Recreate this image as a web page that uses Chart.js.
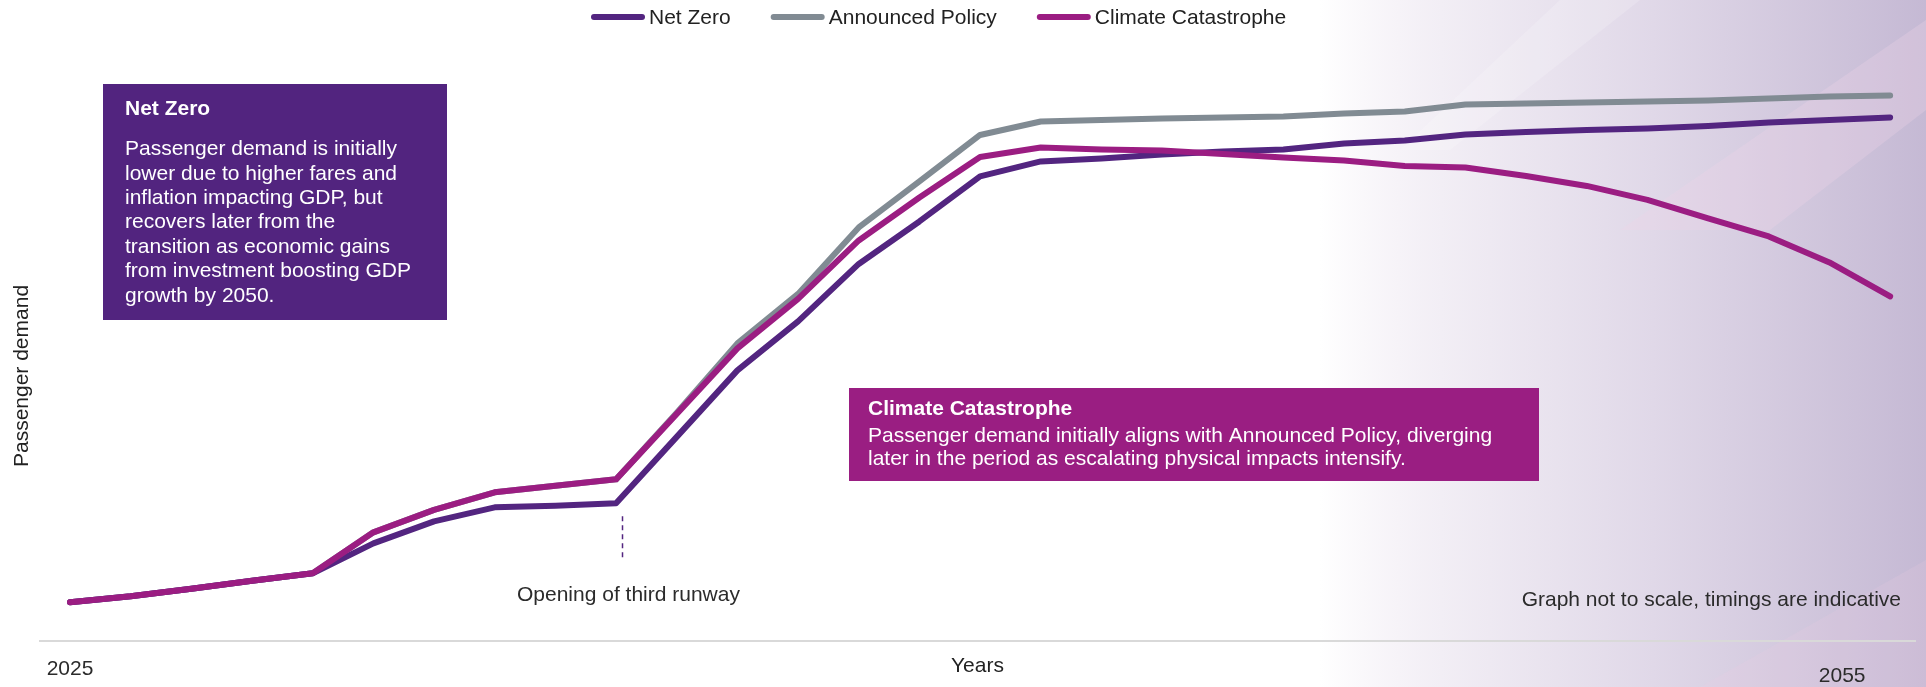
<!DOCTYPE html>
<html>
<head>
<meta charset="utf-8">
<title>Passenger demand scenarios</title>
<script src="https://cdn.jsdelivr.net/npm/chart.js@4.4.1/dist/chart.umd.min.js"></script>
<style>
  html, body { margin: 0; padding: 0; background: #fff; }
  #wrap { width: 1926px; height: 687px; position: relative; }
</style>
</head>
<body>
<div id="wrap"><canvas id="demandChart"></canvas></div>
<script>
var years = [2025, 2026, 2027, 2028, 2029, 2030, 2031, 2032, 2033, 2034,
             2035, 2036, 2037, 2038, 2039, 2040, 2041, 2042, 2043, 2044,
             2045, 2046, 2047, 2048, 2049, 2050, 2051, 2052, 2053, 2054, 2055];

// indicative demand index
var netZero = [7.7, 8.9, 10.4, 12.0, 13.5, 19.5, 23.9, 26.7, 27.0, 27.5,
               40.8, 54.1, 63.9, 75.4, 83.9, 92.9, 95.9, 96.5, 97.3, 97.9,
               98.3, 99.5, 100.1, 101.3, 101.8, 102.2, 102.5, 103.0, 103.7, 104.2, 104.7];
var announcedPolicy = [7.7, 8.9, 10.4, 12.0, 13.5, 21.7, 26.2, 29.7, 31.0, 32.3,
                       45.6, 59.5, 69.4, 82.7, 91.9, 101.2, 103.9, 104.2, 104.5, 104.7,
                       104.9, 105.5, 105.9, 107.3, 107.5, 107.7, 107.9, 108.1, 108.5, 108.9, 109.1];
var climateCatastrophe = [7.7, 8.9, 10.4, 12.0, 13.5, 21.7, 26.2, 29.7, 31.0, 32.3,
                          45.4, 58.5, 68.4, 80.1, 88.7, 96.8, 98.7, 98.3, 98.1, 97.4,
                          96.7, 96.1, 95.0, 94.7, 93.0, 91.0, 88.2, 84.5, 80.9, 75.7, 68.9];

var seriesNames = ['Net Zero', 'Announced Policy', 'Climate Catastrophe'];
var seriesColors = ['#532580', '#818b93', '#9b1d82'];
var tickLabels = ['2025', '2055'];
var runwayYear = 2034.1;

var FONT = '"Liberation Sans", Arial, sans-serif';

function points(values) {
    return years.map(function (yr, i) { return { x: yr, y: values[i] }; });
}

// soft lilac wash on the right hand side
var backdrop = {
    id: 'backdrop',
    beforeDraw: function (chart) {
        var ctx = chart.ctx, w = chart.width, h = chart.height;
        ctx.save();
        ctx.fillStyle = '#ffffff';
        ctx.fillRect(0, 0, w, h);
        var g = ctx.createLinearGradient(1320, 0, w, 0);
        g.addColorStop(0, 'rgba(240,234,243,0)');
        g.addColorStop(0.2, '#f2eef5');
        g.addColorStop(0.55, '#e0d8e8');
        g.addColorStop(1, '#c5b9d4');
        ctx.fillStyle = g;
        ctx.fillRect(1320, 0, w - 1320, h);

        ctx.fillStyle = 'rgba(238,212,232,0.30)';
        ctx.beginPath();
        ctx.moveTo(1620, 230); ctx.lineTo(1926, 20); ctx.lineTo(1926, 110); ctx.lineTo(1770, 230);
        ctx.closePath(); ctx.fill();

        ctx.fillStyle = 'rgba(255,255,255,0.18)';
        ctx.beginPath();
        ctx.moveTo(1560, 0); ctx.lineTo(1640, 0); ctx.lineTo(1450, 150); ctx.lineTo(1400, 150);
        ctx.closePath(); ctx.fill();

        ctx.fillStyle = 'rgba(236,205,228,0.18)';
        ctx.beginPath();
        ctx.moveTo(1700, 687); ctx.lineTo(1926, 560); ctx.lineTo(1926, 687);
        ctx.closePath(); ctx.fill();
        ctx.restore();
    }
};

// text boxes, runway marker, axis title and the two year labels
var notes = {
    id: 'notes',
    afterDraw: function (chart) {
        var ctx = chart.ctx;
        var xs = chart.scales.x, ys = chart.scales.y;
        ctx.save();
        ctx.textBaseline = 'middle';

        // Net Zero box
        ctx.fillStyle = '#52247f';
        ctx.fillRect(103, 84, 344, 236);
        ctx.fillStyle = '#ffffff';
        ctx.font = 'bold 21px ' + FONT;
        ctx.fillText('Net Zero', 125, 109);
        ctx.font = '21px ' + FONT;
        var nzLines = ['Passenger demand is initially', 'lower due to higher fares and',
            'inflation impacting GDP, but', 'recovers later from the',
            'transition as economic gains', 'from investment boosting GDP', 'growth by 2050.'];
        nzLines.forEach(function (t, i) { ctx.fillText(t, 125, 149.5 + i * 24.4); });

        // Climate Catastrophe box
        ctx.fillStyle = '#9a1e82';
        ctx.fillRect(849, 388, 690, 93);
        ctx.fillStyle = '#ffffff';
        ctx.font = 'bold 21px ' + FONT;
        ctx.fillText('Climate Catastrophe', 868, 409);
        ctx.font = '21px ' + FONT;
        ctx.fillText('Passenger demand initially aligns with Announced Policy, diverging', 868, 436);
        ctx.fillText('later in the period as escalating physical impacts intensify.', 868, 459);

        // third runway marker
        var rx = Math.round(xs.getPixelForValue(runwayYear)) + 0.5;
        var top = ys.getPixelForValue(netZero[9]) + 13;
        ctx.strokeStyle = '#532580';
        ctx.lineWidth = 1.5;
        ctx.setLineDash([5, 4]);
        ctx.beginPath(); ctx.moveTo(rx, top); ctx.lineTo(rx, top + 42); ctx.stroke();
        ctx.setLineDash([]);

        ctx.fillStyle = '#2b2b2b';
        ctx.fillText('Opening of third runway', 517, 595);
        ctx.textAlign = 'right';
        ctx.fillText('Graph not to scale, timings are indicative', 1901, 600);

        ctx.textAlign = 'center';
        ctx.fillText(tickLabels[0], xs.getPixelForValue(years[0]), 669);
        ctx.fillText(tickLabels[1], xs.getPixelForValue(years[years.length - 1]) - 48, 676);

        // y axis title sits a little below the middle of the plot
        ctx.fillStyle = '#222222';
        ctx.translate(22, 376);
        ctx.rotate(-Math.PI / 2);
        ctx.fillText('Passenger demand', 0, 0);
        ctx.restore();
    }
};

// line-sample legend across the top
var keyLegend = {
    id: 'keyLegend',
    afterDraw: function (chart) {
        var ctx = chart.ctx, x = 591, y = 17;
        ctx.save();
        ctx.font = '21px ' + FONT;
        ctx.textBaseline = 'middle';
        chart.data.datasets.forEach(function (ds) {
            ctx.strokeStyle = ds.borderColor;
            ctx.lineWidth = 6;
            ctx.lineCap = 'round';
            ctx.beginPath(); ctx.moveTo(x + 3, y); ctx.lineTo(x + 51, y); ctx.stroke();
            x += 58;
            ctx.fillStyle = '#222222';
            ctx.fillText(ds.label, x, y + 1);
            x += ctx.measureText(ds.label).width + 40;
        });
        ctx.restore();
    }
};

new Chart(document.getElementById('demandChart'), {
    type: 'line',
    data: {
        datasets: [
            { label: seriesNames[0], data: points(netZero), borderColor: seriesColors[0], order: 1 },
            { label: seriesNames[1], data: points(announcedPolicy), borderColor: seriesColors[1], order: 2 },
            { label: seriesNames[2], data: points(climateCatastrophe), borderColor: seriesColors[2], order: 0 }
        ]
    },
    options: {
        responsive: true,
        maintainAspectRatio: false,
        animation: false,
        layout: { padding: { top: 41, right: 11, bottom: 8, left: 40 } },
        elements: {
            point: { radius: 0, hoverRadius: 0 },
            line: { tension: 0, borderWidth: 6, borderCapStyle: 'round', borderJoinStyle: 'round', fill: false }
        },
        plugins: {
            legend: { display: false },
            tooltip: { enabled: false }
        },
        scales: {
            x: {
                type: 'linear',
                min: 2024.505,
                max: 2055.41,
                grid: { display: false, drawTicks: false },
                ticks: { display: false },
                border: { display: true, color: '#d9d9d9', width: 2 },
                title: { display: true, text: 'Years', color: '#222222',
                         font: { family: FONT, size: 21 }, padding: { top: 13, bottom: 0 } }
            },
            y: {
                display: false,
                min: 0,
                max: 120
            }
        }
    },
    plugins: [backdrop, notes, keyLegend]
});
</script>
</body>
</html>
